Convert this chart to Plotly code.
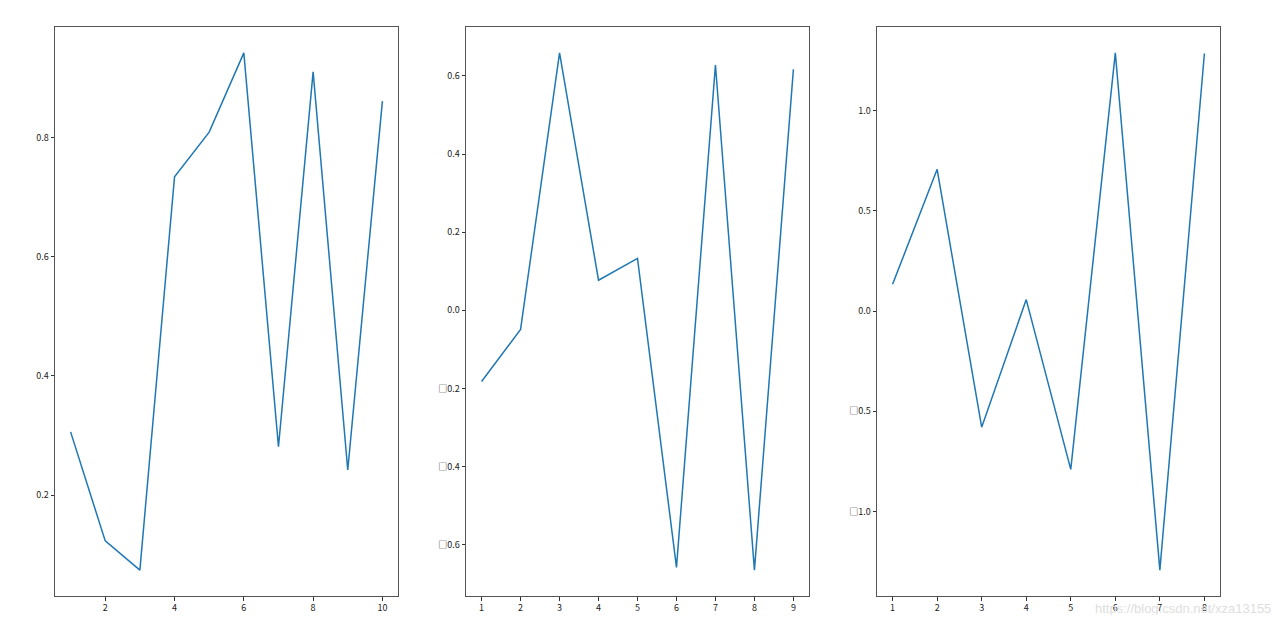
import plotly.graph_objects as go
from plotly.subplots import make_subplots

# --- data --------------------------------------------------------------
x1 = list(range(1, 11))
y1 = [0.306, 0.123, 0.074, 0.734, 0.809, 0.942, 0.281, 0.910, 0.242, 0.861]

x2 = list(range(1, 10))
y2 = [-0.182, -0.049, 0.659, 0.077, 0.133, -0.658, 0.628, -0.665, 0.617]

x3 = list(range(1, 9))
y3 = [0.133, 0.707, -0.580, 0.057, -0.790, 1.288, -1.293, 1.285]

xticks1 = [2, 4, 6, 8, 10]
yticks1 = [0.2, 0.4, 0.6, 0.8]
xticks2 = list(range(1, 10))
yticks2 = [-0.6, -0.4, -0.2, 0.0, 0.2, 0.4, 0.6]
xticks3 = list(range(1, 9))
yticks3 = [-1.0, -0.5, 0.0, 0.5, 1.0]

watermark = "https://blog.csdn.net/xza13155"

# the page body has an 8px margin, so the figure is drawn 8px in from the corner
OFF = 8
W, H = 1280 - 2 * OFF, 623 - 2 * OFF
LINE = "#1f77b4"
SPINE = "#555555"
FONT = dict(family="Noto Sans CJK SC, DejaVu Sans, sans-serif", size=9, color="#222")

# axes boxes in window pixels (left, right), shared top/bottom
boxes = [(55, 398), (466, 809), (877, 1220)]
top, bottom = 27, 596


def px_x(x):
    return (x - OFF) / W


def px_y(y):
    return (H - (y - OFF)) / H


def tick_text(vals):
    # matplotlib rendered the minus sign as a missing-glyph box
    out = []
    for v in vals:
        s = f"{abs(v):.1f}"
        out.append(("\u25a1" + s) if v < 0 else s)
    return out


def pad(vals, frac=0.05):
    lo, hi = min(vals), max(vals)
    d = (hi - lo) * frac
    return [lo - d, hi + d]


fig = make_subplots(rows=1, cols=3)

series = [(x1, y1, xticks1, yticks1), (x2, y2, xticks2, yticks2), (x3, y3, xticks3, yticks3)]

for i, ((xs, ys, xt, yt), (l, r)) in enumerate(zip(series, boxes), start=1):
    fig.add_trace(go.Scatter(x=xs, y=ys, mode="lines",
                             line=dict(color=LINE, width=1.5),
                             showlegend=False), row=1, col=i)
    axis_common = dict(showgrid=False, zeroline=False, showline=True,
                       linecolor=SPINE, linewidth=1, mirror=True,
                       ticks="outside", ticklen=3.5, tickwidth=1,
                       tickcolor="#333", tickfont=FONT)
    fig.update_xaxes(domain=[px_x(l), px_x(r)], range=pad(xs),
                     tickvals=xt, ticktext=[str(v) for v in xt],
                     row=1, col=i, **axis_common)
    fig.update_yaxes(domain=[px_y(bottom), px_y(top)], range=pad(ys),
                     tickvals=yt, ticktext=tick_text(yt),
                     row=1, col=i, **axis_common)

fig.add_annotation(text=watermark, x=px_x(1273), y=px_y(608),
                   xref="paper", yref="paper",
                   showarrow=False, xanchor="right", yanchor="middle",
                   font=dict(family="Liberation Sans, sans-serif", size=13, color="#dedede"))

fig.update_layout(width=W, height=H,
                  margin=dict(l=0, r=0, t=0, b=0),
                  plot_bgcolor="white", paper_bgcolor="white")

fig.write_html("out.html")
